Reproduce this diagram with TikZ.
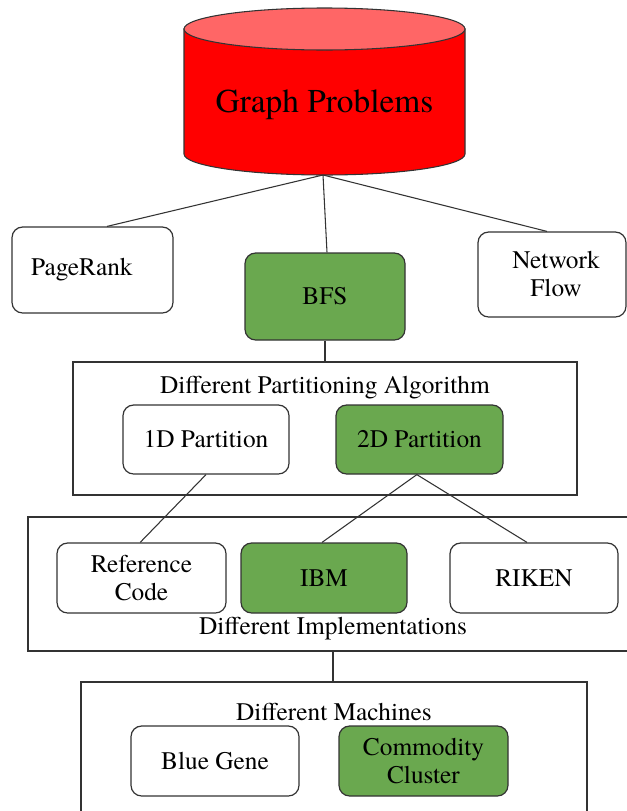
\documentclass[tikz,border=0pt]{standalone}
\usepackage{fontspec}
\setmainfont{texgyretermes-regular.otf}
\newfontfamily\serf{texgyretermes-regular.otf}
\definecolor{gfill}{HTML}{6AA84F}
\definecolor{edgec}{HTML}{333333}
\definecolor{cyltop}{HTML}{FF6666}
\begin{document}
\begin{tikzpicture}[x=0.75pt,y=-0.75pt,
  rbox/.style n args={2}{draw=edgec, line width=0.9pt, rounded corners=8pt,
    minimum width=#1*0.75pt, minimum height=#2*0.75pt, inner sep=0pt,
    align=center, font=\serf\fontsize{19}{21}\selectfont},
  gbox/.style={fill=gfill},
  grp/.style n args={2}{draw=edgec, line width=0.9pt,
    minimum width=#1*0.75pt, minimum height=#2*0.75pt, inner sep=0pt},
  ttl/.style={inner sep=0pt, font=\serf\fontsize{19}{21}\selectfont},
  conn/.style={draw=edgec, line width=0.8pt}]
\useasboundingbox (0,0) rectangle (627,811);
\clip (0,0) rectangle (627,811);
\fill[white] (0,0) rectangle (627,811);

% cylinder
\filldraw[fill=red, draw=edgec, line width=0.8pt] (184,29) -- (184,154)
  arc[start angle=180, end angle=360, x radius=105.375pt, y radius=15.75pt]
  -- (465,29) -- cycle;
\filldraw[fill=cyltop, draw=edgec, line width=0.8pt] (324.5,29)
  ellipse[x radius=105.375pt, y radius=15.75pt];
\node[inner sep=0pt, font=\serf\fontsize{25}{30}\selectfont] (gp) at (324.5,105) {Graph Problems};
\coordinate (gpb) at (323,175);

% group boxes
\node[grp={504}{133}] (part) at (325,428.5) {};
\node[grp={612}{134}] (impl) at (334,584) {};
\node[grp={506}{148}] (mach) at (334,756) {};

\node[ttl] (tpart) at (325,388) {Different Partitioning Algorithm};
\node[ttl] (timpl) at (333,629) {Different Implementations};
\node[ttl] (tmach) at (334,712) {Different Machines};

% level 1
\node[rbox={161}{86}] (pr) at (92.5,270) {PageRank\hspace*{16pt}};
\node[rbox={160}{87}, gbox] (bfs) at (325,296.5) {BFS};
\node[rbox={148}{85}] (nf) at (552,274.5) {\hspace*{6pt}Network\\\hspace*{6pt}Flow};

% level 2
\node[rbox={166}{69}] (p1) at (206,439.5) {1D Partition};
\node[rbox={167}{69}, gbox] (p2) at (419.5,439.5) {2D Partition};

% level 3
\node[rbox={169}{70}] (ref) at (141.5,578) {Reference\\Code};
\node[rbox={166}{70}, gbox] (ibm) at (324,578) {IBM};
\node[rbox={168}{70}] (riken) at (534,578) {RIKEN};

% level 4
\node[rbox={168}{70}] (bg) at (215,761) {Blue Gene};
\node[rbox={169}{70}, gbox] (cc) at (423.5,761) {Commodity\\Cluster};

% connectors
\draw[conn] (gpb) -- ([xshift=10.9pt]pr.north);
\draw[conn] (gpb) -- ([xshift=1.5pt]bfs.north);
\draw[conn] (gpb) -- ([xshift=-3.75pt]nf.north);
\draw[conn] (bfs.south) -- (bfs.south |- part.north);
\draw[conn] (p1.south) -- ([xshift=-1pt]ref.north);
\draw[conn] ([xshift=-2pt]p2.south) -- ([xshift=-1.5pt]ibm.north);
\draw[conn] ([xshift=-2pt]p2.south) -- ([xshift=-5.25pt]riken.north);
\draw[conn] (timpl.center |- impl.south) -- (timpl.center |- mach.north);
\end{tikzpicture}
\end{document}
